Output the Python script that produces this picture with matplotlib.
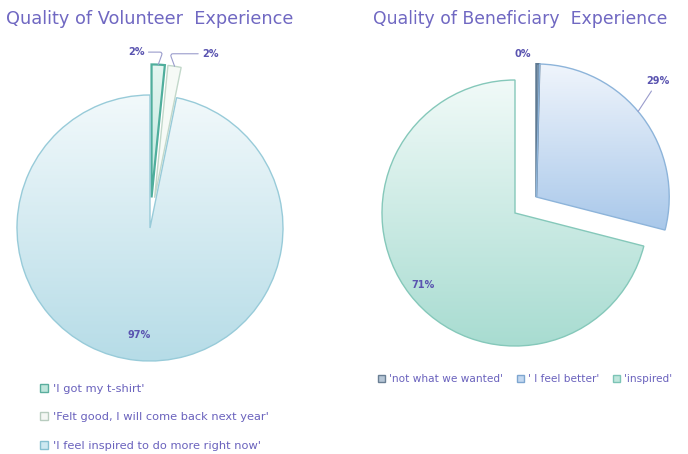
import numpy as np
import matplotlib
matplotlib.use("Agg")
import matplotlib.pyplot as plt
from matplotlib.patches import Patch
from matplotlib.colors import to_rgb

# ---------------- data ----------------
vol_title = "Quality of Volunteer  Experience"
vol_labels = ["'I got my t-shirt'",
              "'Felt good, I will come back next year'",
              "'I feel inspired to do more right now'"]
vol_values = [1.6, 1.6, 96.8]

ben_title = "Quality of Beneficiary  Experience"
ben_labels = ["'not what we wanted'", "' I feel better'", "'inspired'"]
ben_values = [0.4, 28.6, 71.0]

# ---------------- style ----------------
FONT = ["DejaVu Sans"]
plt.rcParams['font.family'] = FONT
TXT = "#6a62bd"
PCT = "#5a54b0"
W, H, R = 688, 454, 133.0

fig = plt.figure(figsize=(W / 100, H / 100), dpi=100)
fig.patch.set_facecolor("white")


def make_ax(cx, cy, x0, x1, y0, y1):
    ax = fig.add_axes([x0 / W, 1 - y1 / H, (x1 - x0) / W, (y1 - y0) / H])
    lims = ((x0 - cx) / R, (x1 - cx) / R), ((cy - y1) / R, (cy - y0) / R)
    return ax, lims


def grad_fill(ax, wedge, top, bottom):
    bb = wedge.get_path().get_extents()
    c0, c1 = np.array(to_rgb(top)), np.array(to_rgb(bottom))
    t = np.linspace(0, 1, 256)[:, None]
    img = (c0 * (1 - t) + c1 * t)[:, None, :]
    im = ax.imshow(img, extent=(bb.x0, bb.x1, bb.y0, bb.y1), origin="upper",
                   aspect="equal", interpolation="bilinear", zorder=0.95)
    im.set_clip_path(wedge)
    wedge.set_facecolor("none")


def arc_point(w, ang):
    a = np.deg2rad(ang)
    return (w.center[0] + w.r * np.cos(a), w.center[1] + w.r * np.sin(a))


def mid(w):
    return 0.5 * (w.theta1 + w.theta2)


shadow = dict(ox=0.6, oy=-2.8, facecolor="#a0a0a0", edgecolor="none", alpha=0.5)

# ---------------- left pie ----------------
axl, (xl, yl) = make_ax(150, 228, 0, 330, 35, 372)
wl, _ = axl.pie(vol_values, explode=[0.23, 0.23, 0.0], startangle=90,
                counterclock=False, colors=["#cdeee6", "#f6faf6", "#d5ecf3"],
                shadow=shadow, wedgeprops=dict(linewidth=1.0))
wl[0].set_edgecolor("#4fae9c"); wl[0].set_linewidth(1.6)
wl[1].set_edgecolor("#c2d8ca")
wl[2].set_edgecolor("#98cbd9")
grad_fill(axl, wl[2], "#f2f9fb", "#b6dce7")
grad_fill(axl, wl[0], "#e4f6f1", "#bfe7de")

# percentage labels
ang = mid(wl[2]); a = np.deg2rad(ang)
axl.text(0.81 * np.cos(a), 0.81 * np.sin(a), f"{vol_values[2]:.0f}%", color=PCT,
         fontsize=7, fontweight="bold", ha="center", va="center")
axl.annotate(f"{vol_values[0]:.0f}%", xy=arc_point(wl[0], mid(wl[0])),
             xytext=(-10, 9), textcoords="offset points", ha="right", va="center",
             color=PCT, fontsize=7, fontweight="bold",
             arrowprops=dict(arrowstyle="-", color="#9a9ccc", lw=0.8,
                             shrinkA=1, shrinkB=0,
                             connectionstyle="angle,angleA=0,angleB=70,rad=3"))
axl.annotate(f"{vol_values[1]:.0f}%", xy=arc_point(wl[1], mid(wl[1])),
             xytext=(20, 9), textcoords="offset points", ha="left", va="center",
             color=PCT, fontsize=7, fontweight="bold",
             arrowprops=dict(arrowstyle="-", color="#9a9ccc", lw=0.8,
                             shrinkA=1, shrinkB=0,
                             connectionstyle="angle,angleA=180,angleB=110,rad=3"))
axl.set_xlim(*xl); axl.set_ylim(*yl); axl.axis("off")

# ---------------- right pie ----------------
axr, (xr, yr) = make_ax(515, 213, 350, 688, 35, 362)
wr, _ = axr.pie(ben_values, explode=[0.2, 0.2, 0.0], startangle=90,
                counterclock=False, colors=["#7f96ab", "#d0e1f3", "#cfeee7"],
                shadow=shadow, wedgeprops=dict(linewidth=1.0))
wr[0].set_center(wr[1].center)
wr[0].set_edgecolor("#5f7a93"); wr[0].set_linewidth(1.4)
wr[1].set_edgecolor("#8db4da")
wr[2].set_edgecolor("#85c8ba")
grad_fill(axr, wr[1], "#f0f5fc", "#a9c8ea")
grad_fill(axr, wr[2], "#f1faf8", "#a8dcd1")

ang = mid(wr[2]); a = np.deg2rad(ang)
axr.text(0.88 * np.cos(a), 0.88 * np.sin(a), f"{ben_values[2]:.0f}%", color=PCT,
         fontsize=7, fontweight="bold", ha="center", va="center")
axr.annotate(f"{ben_values[0]:.0f}%", xy=arc_point(wr[0], mid(wr[0])),
             xytext=(-5, 7), textcoords="offset points", ha="right", va="center",
             color=PCT, fontsize=7, fontweight="bold")
axr.annotate(f"{ben_values[1]:.0f}%", xy=arc_point(wr[1], 40),
             xytext=(6, 22), textcoords="offset points", ha="left", va="center",
             color=PCT, fontsize=7, fontweight="bold",
             arrowprops=dict(arrowstyle="-", color="#9a9ccc", lw=0.8,
                             shrinkA=2, shrinkB=0))
axr.set_xlim(*xr); axr.set_ylim(*yr); axr.axis("off")

# ---------------- titles ----------------
fig.text(150 / W, 1 - 19 / H, vol_title, ha="center", va="center",
         fontsize=12.8, color="#7068c2")
fig.text(520 / W, 1 - 19 / H, ben_title, ha="center", va="center",
         fontsize=12.4, color="#7068c2")

# ---------------- legends ----------------
hl = [Patch(facecolor="#bfe6dc", edgecolor="#5aae9e"),
      Patch(facecolor="#f4f7f4", edgecolor="#b8ccbf"),
      Patch(facecolor="#cde9f1", edgecolor="#86c0d0")]
fig.legend(hl, vol_labels, loc="upper left", bbox_to_anchor=(40 / W, 1 - 384 / H),
           frameon=False, fontsize=8.2, labelcolor=TXT, handlelength=0.7,
           handleheight=0.7, handletextpad=0.4, labelspacing=1.62,
           borderpad=0, borderaxespad=0)

hr = [Patch(facecolor="#b6c6d6", edgecolor="#6a7f94"),
      Patch(facecolor="#c3d8f0", edgecolor="#7ea6d0"),
      Patch(facecolor="#bfe6dc", edgecolor="#7cc4b6")]
fig.legend(hr, ben_labels, loc="center left", bbox_to_anchor=(378 / W, 1 - 379 / H),
           ncol=3, frameon=False, fontsize=7.6, labelcolor=TXT, handlelength=0.7,
           handleheight=0.7, handletextpad=0.35, columnspacing=1.3,
           borderpad=0, borderaxespad=0)

fig.savefig("out.png", dpi=100, facecolor="white")
